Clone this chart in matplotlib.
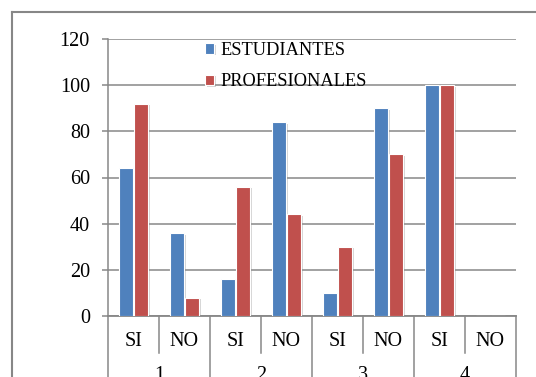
import matplotlib
matplotlib.use('Agg')
import matplotlib.pyplot as plt
import matplotlib.patheffects as pe
from matplotlib.lines import Line2D
from matplotlib.transforms import blended_transform_factory
import numpy as np

plt.rcParams['font.family'] = ['Liberation Serif', 'DejaVu Serif']

# respuestas por pregunta (SI / NO), en porcentaje
grupos = ['1', '2', '3', '4']
respuestas = ['SI', 'NO']
estudiantes = [64, 36, 16, 84, 10, 90, 100, 0]
profesionales = [92, 8, 56, 44, 30, 70, 100, 0]

AZUL = '#4F81BD'
ROJO = '#C0504D'
GRIS = '#878787'

fig = plt.figure(figsize=(5.36, 3.77), dpi=100)
W, H = 536, 377
ax = fig.add_axes([108 / W, 1 - 316 / H, (516 - 108) / W, (316 - 39) / H])

n = len(estudiantes)
x = np.arange(n) + 0.5
ancho = 0.27
sombra = [pe.SimplePatchShadow(offset=(1.2, -1.2), shadow_rgbFace='#888888', alpha=0.35), pe.Normal()]

b1 = ax.bar(x - 0.147, estudiantes, ancho, color=AZUL, edgecolor='white', linewidth=0.8,
            label='ESTUDIANTES', zorder=3)
b2 = ax.bar(x + 0.147, profesionales, ancho, color=ROJO, edgecolor='white', linewidth=0.8,
            label='PROFESIONALES', zorder=3)
for b in list(b1) + list(b2):
    b.set_path_effects(sombra)

ax.set_xlim(0, n)
ax.set_ylim(0, 120)
ax.set_yticks(range(0, 121, 20))
ax.yaxis.grid(True, color=GRIS, linewidth=1.1, zorder=0)
ax.set_axisbelow(True)

for lado in ['top', 'right']:
    ax.spines[lado].set_visible(False)
ax.spines['left'].set_color(GRIS)
ax.spines['bottom'].set_color(GRIS)
ax.spines['left'].set_linewidth(1.1)
ax.spines['bottom'].set_linewidth(1.3)

ax.tick_params(axis='y', direction='out', length=4, width=1.1, color=GRIS,
               labelsize=14.5, pad=9)
ax.set_xticks([])

# eje de categorias de dos niveles
trans = blended_transform_factory(ax.transData, ax.transAxes)
alto = 277.0
for i in range(n + 1):
    fondo = -(377 - 316 + 5) / alto if i % 2 == 0 else -(353 - 316) / alto
    ax.add_line(Line2D([i, i], [0, fondo], transform=trans, color=GRIS,
                       linewidth=1.1, clip_on=False))
for i in range(n):
    ax.text(i + 0.5, -(341 - 316) / alto, respuestas[i % 2], transform=trans,
            ha='center', va='center', fontsize=14.5)
for j, g in enumerate(grupos):
    ax.text(2 * j + 1, -(366 - 316) / alto, g, transform=trans,
            ha='center', va='top', fontsize=14.5)

leg = ax.legend(loc='upper left', bbox_to_anchor=(205 / W, 1 - 42 / H),
                bbox_transform=fig.transFigure, frameon=False, fontsize=13.2,
                handlelength=0.5, handleheight=0.5, handletextpad=0.35,
                labelspacing=0.78, borderpad=0, borderaxespad=0)

# marco exterior
fig.add_artist(Line2D([12 / W, 1], [1 - 12 / H, 1 - 12 / H], transform=fig.transFigure,
                      color=GRIS, linewidth=1.5))
fig.add_artist(Line2D([12 / W, 12 / W], [0, 1 - 12 / H], transform=fig.transFigure,
                      color=GRIS, linewidth=1.5))

fig.savefig('out.png', dpi=100)
